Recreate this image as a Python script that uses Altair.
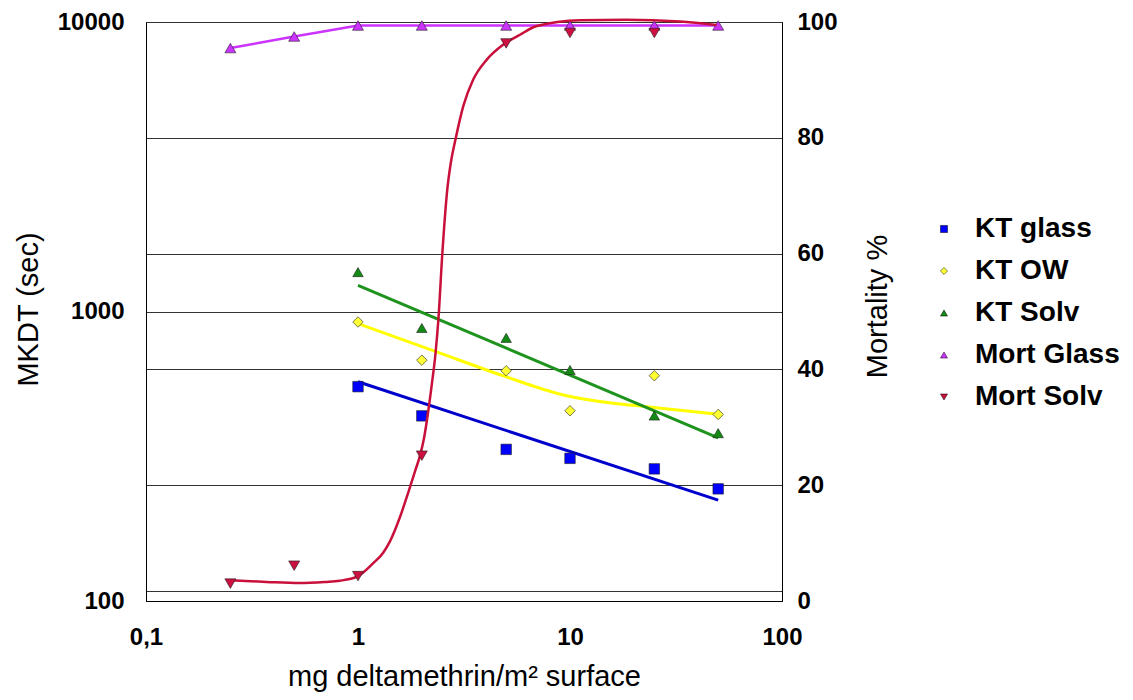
import altair as alt
import pandas as pd

# ---------------- data ----------------
series_names = ["KT glass", "KT OW", "KT Solv", "Mort Glass", "Mort Solv"]
marker_colors = ["#0000FF", "#FFFF33", "#138A13", "#CC33FF", "#CC1040"]
marker_shapes = ["square", "diamond", "triangle-up", "triangle-up", "triangle-down"]

# knock-down times (sec), left log axis
kt_dose = [1, 2, 5, 10, 25, 50]
kt_glass = [550, 436, 334, 311, 286, 244]
kt_ow = [920, 679, 624, 454, 600, 441]
kt_solv = [1368, 877, 811, 628, 437, 380]

# trend lines for knock-down times
trend_dose = [1, 50]
trend_glass = [572, 223]
trend_solv = [1231, 366]
ow_fit_dose = [1.0, 2.35, 4.9, 9.3, 16.0, 23.0, 50]
ow_fit = [908, 725, 598, 515, 482, 469, 442]

# mortality (%), right axis
mort_glass_dose = [0.25, 0.5, 1, 2, 5, 10, 25, 50]
mort_glass = [95.5, 97.5, 99.4, 99.4, 99.4, 99.4, 99.4, 99.4]
mort_solv_dose = [0.25, 0.5, 1, 2, 5, 10, 25]
mort_solv = [3.0, 6.1, 4.3, 25.1, 96.3, 98.1, 98.1]

# fitted mortality curve for solvent
solv_fit_dose = [0.25, 0.37, 0.53, 0.70, 0.82, 0.99, 1.177, 1.312, 1.415, 1.578,
                 1.721, 1.857, 1.961, 2.048, 2.116, 2.227, 2.324, 2.393, 2.497, 2.636,
                 2.74, 2.89, 3.14, 3.50, 4.05, 4.85, 5.81, 6.97, 11.2, 18.5, 33.0, 49.2]
solv_fit = [3.6, 3.3, 3.1, 3.3, 3.5, 4.2, 6.5, 8.3, 10.3, 14.5,
            18.6, 22.4, 25.1, 28.1, 31.3, 37.3, 43.0, 48.5, 59.8, 71.0,
            75.7, 79.9, 85.5, 90.1, 93.5, 96.1, 97.8, 99.3, 100.3, 100.4, 100.1, 99.5]

x_ticks = [0.1, 1, 10, 100]
kt_ticks = [100, 1000, 10000]
mort_ticks = [0, 1.8, 20, 40, 60, 80, 100]   # 1.8: extra grid line seen near the bottom

FONT = "Liberation Sans"

# ---------------- encodings ----------------
def xenc():
    return alt.X(
        "dose:Q",
        scale=alt.Scale(type="log", domain=[0.1, 100], nice=False),
        axis=alt.Axis(
            values=x_ticks, title="mg deltamethrin/m² surface",
            labelExpr="replace(format(datum.value, '~g'), '.', ',')",
            grid=False, ticks=False, tickSize=0, labelFlush=False, labelOverlap=False,
            labelFontSize=24, labelFontWeight="bold", labelPadding=36, labelBaseline="middle",
            titleFontSize=29, titleFontWeight="normal", titleY=75, titleBaseline="middle",
            domainColor="black",
        ),
    )


def ykt():
    return alt.Y(
        "kt:Q",
        scale=alt.Scale(type="log", domain=[100, 10000], nice=False),
        axis=alt.Axis(
            orient="left", values=kt_ticks, format="d", title="MKDT (sec)",
            grid=True, gridColor="#333333", gridWidth=1,
            ticks=False, tickSize=0, labelFlush=False, labelOverlap=False,
            labelFontSize=24, labelFontWeight="bold", labelPadding=22,
            titleFontSize=29, titleFontWeight="normal", titleAngle=270,
            titleX=-118, titleY=287, titleBaseline="middle", titleAlign="center",
            domainColor="black",
        ),
    )


def ymort():
    return alt.Y(
        "mort:Q",
        scale=alt.Scale(domain=[0, 100], nice=False, zero=False),
        axis=alt.Axis(
            orient="right", values=mort_ticks, title="Mortality %",
            labelExpr="datum.value % 20 == 0 ? datum.label : ''",
            grid=True, gridColor="#333333", gridWidth=1,
            ticks=False, tickSize=0, labelFlush=False, labelOverlap=False,
            labelFontSize=24, labelFontWeight="bold", labelPadding=15,
            titleFontSize=29, titleFontWeight="normal", titleAngle=270,
            titleX=95, titleY=284, titleBaseline="middle", titleAlign="center",
            domainColor="black",
        ),
    )


legend = alt.Legend(
    title=None, orient="none", legendX=784, legendY=193,
    labelFont=FONT, labelFontSize=28, labelFontWeight="bold", labelColor="black",
    symbolSize=50, symbolStrokeColor="black", symbolStrokeWidth=0.5,
    labelOffset=17, rowPadding=14, padding=0,
)
color_enc = alt.Color("series:N", scale=alt.Scale(domain=series_names, range=marker_colors), legend=legend)
shape_enc = alt.Shape("series:N", scale=alt.Scale(domain=series_names, range=marker_shapes), legend=legend)

# ---------------- left (KT) group ----------------
glass_trend_df = pd.DataFrame({"dose": trend_dose, "kt": trend_glass})
solv_trend_df = pd.DataFrame({"dose": trend_dose, "kt": trend_solv})
ow_fit_df = pd.DataFrame({"dose": ow_fit_dose, "kt": ow_fit})

kt_points_df = pd.DataFrame({
    "dose": kt_dose * 3,
    "kt": kt_glass + kt_ow + kt_solv,
    "series": ["KT glass"] * 6 + ["KT OW"] * 6 + ["KT Solv"] * 6,
})

line_glass = alt.Chart(glass_trend_df).mark_line(color="#0000CC", strokeWidth=3).encode(x=xenc(), y=ykt())
line_ow = alt.Chart(ow_fit_df).mark_line(color="#FFFF00", strokeWidth=3, interpolate="monotone").encode(x=xenc(), y=ykt())
line_solv = alt.Chart(solv_trend_df).mark_line(color="#1E931E", strokeWidth=3).encode(x=xenc(), y=ykt())
pts_kt = alt.Chart(kt_points_df).mark_point(filled=True, size=110, stroke="#202020", strokeWidth=0.6, opacity=1).encode(
    x=xenc(), y=ykt(), color=color_enc, shape=shape_enc
)
left = alt.layer(line_glass, line_ow, line_solv, pts_kt)

# ---------------- right (mortality) group ----------------
mg_df = pd.DataFrame({"dose": mort_glass_dose, "mort": mort_glass, "series": "Mort Glass"})
ms_df = pd.DataFrame({"dose": mort_solv_dose, "mort": mort_solv, "series": "Mort Solv"})
ms_fit_df = pd.DataFrame({"dose": solv_fit_dose, "mort": solv_fit})

line_mg = alt.Chart(mg_df).mark_line(color="#CC33FF", strokeWidth=2.5).encode(x=xenc(), y=ymort())
pts_mg = alt.Chart(mg_df).mark_point(filled=True, size=121, stroke="#202020", strokeWidth=0.6, opacity=1).encode(
    x=xenc(), y=ymort(), color=color_enc, shape=shape_enc
)
line_ms = alt.Chart(ms_fit_df).mark_line(color="#C8103A", strokeWidth=2.5, interpolate="monotone").encode(x=xenc(), y=ymort())
pts_ms = alt.Chart(ms_df).mark_point(filled=True, size=121, stroke="#202020", strokeWidth=0.6, opacity=1).encode(
    x=xenc(), y=ymort(), color=color_enc, shape=shape_enc
)
right = alt.layer(line_mg, pts_mg, line_ms, pts_ms)

chart = (
    alt.layer(left, right)
    .resolve_scale(y="independent")
    .properties(
        width=636, height=579,
        padding={"left": 138, "top": 14, "right": 340, "bottom": 91},
        autosize=alt.AutoSizeParams(type="none"),
        background="white",
    )
    .configure_view(stroke="black", strokeWidth=1)
    .configure_axis(labelFont=FONT, titleFont=FONT, labelColor="black", titleColor="black")
)

chart.save("out.html", embed_options={"renderer": "svg", "actions": False})
